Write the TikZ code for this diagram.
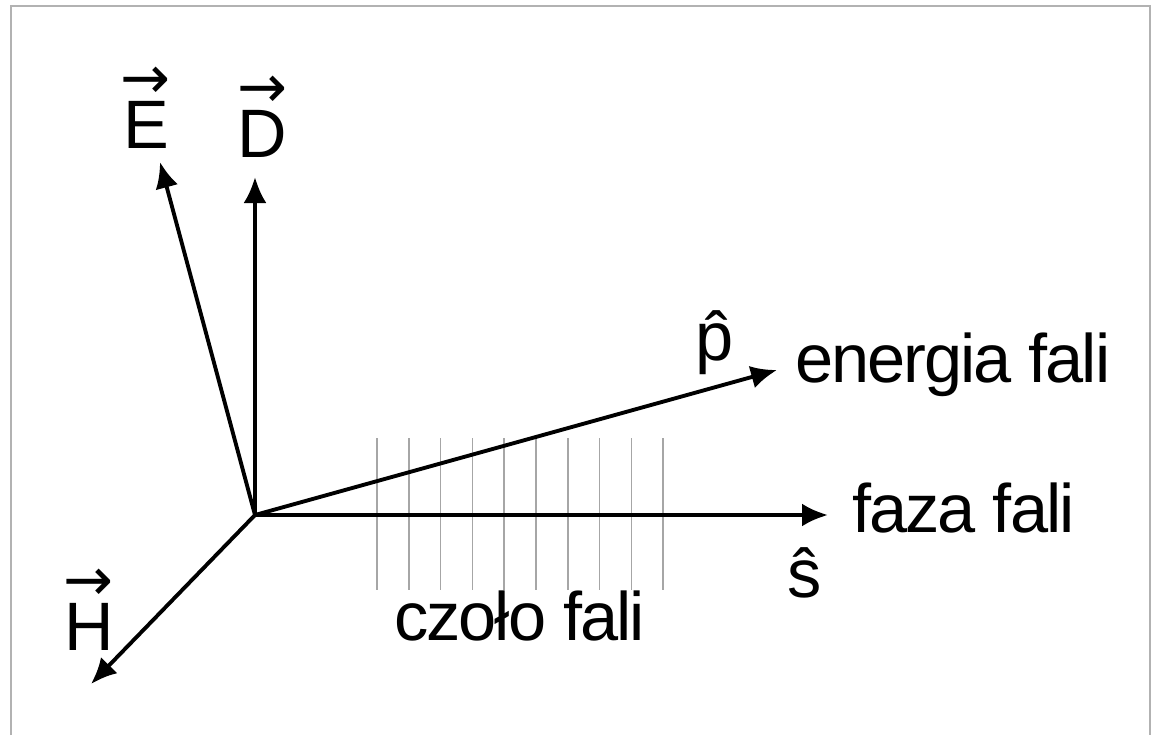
\documentclass[tikz,border=0pt]{standalone}
\usepackage{fontspec}
\usepackage{graphicx}
\setmainfont{Liberation Sans}[LetterSpace=-3]
\newfontfamily\strzalka{DejaVu Sans}
\usetikzlibrary{arrows.meta, positioning}
\newcommand{\wek}[1]{\ooalign{#1\cr\hidewidth\raisebox{14.2pt}{\resizebox{0.5cm}{!}{\strzalka →}}\hidewidth\cr}}
\tikzset{
    field/.style={-{Latex[length=2.6mm, width=2.3mm]}, line width=1.1pt},
    front/.style={gray!70, line width=0.45pt},
    lbl/.style={inner sep=0pt, anchor=base, font=\fontsize{19.5}{23}\selectfont},
}
\begin{document}
\begin{tikzpicture}
    \useasboundingbox (-2.55,-2.20) rectangle (8.96,5.15);
    \draw[gray!60, line width=0.6pt] (-2.44,-2.20) -- (-2.44,5.09) -- (8.95,5.09) -- (8.95,-2.20);
    % czolo fali
    \foreach \i in {0,...,9}
        \draw[front] ({1.22+0.318*\i},0.77) -- ({1.22+0.318*\i},-0.75);
    \coordinate (O) at (0,0);
    \coordinate (Etip) at (-0.95,3.53);
    \coordinate (Dtip) at (0,3.38);
    \coordinate (ptip) at (5.22,1.45);
    \coordinate (stip) at (5.73,0);
    \coordinate (Htip) at (-1.64,-1.69);
    \draw[field] (O) -- (Etip);
    \draw[field] (O) -- (Dtip);
    \draw[field] (O) -- (ptip);
    \draw[field] (O) -- (stip);
    \draw[field] (O) -- (Htip);
    % opisy
    \node[lbl] (E) at (-1.09,3.67) {\wek{E}};
    \node[lbl] (D) at (0.07,3.58) {\wek{D}};
    \node[lbl] (H) at (-1.66,-1.35) {\wek{H}};
    \node[lbl] (p) at (4.60,1.55) {\^{p}};
    \node[lbl] (s) at (5.50,-0.82) {\^{s}};
    \node[lbl, anchor=base west] (energia) at (5.40,1.33) {energia fali};
    \node[lbl, anchor=base west] (faza) at (5.97,-0.17) {faza fali};
    \node[lbl] (czolo) at (2.645,-1.25) {czoło fali};
\end{tikzpicture}
\end{document}
